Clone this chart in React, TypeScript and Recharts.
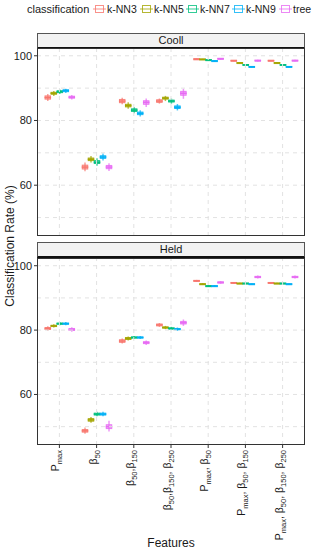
import React from 'react';
import { ComposedChart, Bar, XAxis, YAxis, ReferenceLine } from 'recharts';

const FEATURES = ['Pmax', 'b50', 'b50b150', 'b50b150b250', 'Pmax,b50', 'Pmax,b50,b150', 'Pmax,b50,b150,b250'];

// [text, subscript] pieces for each x label
const FEATURE_LABELS: [string, string][][] = [
  [['P', 'max']],
  [['β', '50']],
  [['β', '50'], [',β', '150']],
  [['β', '50'], [',β', '150'], [', β', '250']],
  [['P', 'max'], [', β', '50']],
  [['P', 'max'], [', β', '50'], [', β', '150']],
  [['P', 'max'], [', β', '50'], [', β', '150'], [', β', '250']],
];

const CLASSIFIERS = ['k-NN3', 'k-NN5', 'k-NN7', 'k-NN9', 'tree'];
const COLORS = ['#F8766D', '#A3A500', '#00BF7D', '#00B0F6', '#E76BF3'];

const Y_TICKS = [60, 80, 100];
const Y_MINOR = [50, 70, 90];
const Y_DOMAIN = [44.3, 102.4];

// each entry: [lower whisker, q1, median, q3, upper whisker], one per feature set
const COOLL_KNN3 = [[86.0, 86.6, 87.1, 87.6, 88.2], [64.3, 65.0, 65.6, 66.2, 67.0], [85.0, 85.5, 86.0, 86.5, 87.0], [85.2, 85.6, 86.0, 86.4, 86.8], [98.8, 98.9, 99.0, 99.05, 99.1], [98.3, 98.4, 98.5, 98.6, 98.7], [98.3, 98.4, 98.5, 98.6, 98.7]];
const COOLL_KNN5 = [[87.6, 88.1, 88.4, 88.7, 89.1], [67.0, 67.6, 68.0, 68.4, 69.0], [83.6, 84.2, 84.6, 85.0, 85.6], [86.0, 86.6, 86.9, 87.2, 87.6], [98.7, 98.8, 98.9, 99.0, 99.05], [97.6, 97.7, 97.8, 97.9, 98.0], [97.6, 97.7, 97.8, 97.9, 98.0]];
const COOLL_KNN7 = [[88.2, 88.6, 88.9, 89.2, 89.6], [66.0, 66.7, 67.1, 67.6, 68.3], [82.2, 82.8, 83.2, 83.6, 84.2], [85.2, 85.7, 86.0, 86.3, 86.8], [98.5, 98.6, 98.7, 98.8, 98.9], [97.0, 97.1, 97.2, 97.3, 97.4], [97.0, 97.1, 97.2, 97.3, 97.4]];
const COOLL_KNN9 = [[88.5, 88.9, 89.2, 89.5, 89.8], [67.6, 68.3, 68.7, 69.1, 69.8], [81.2, 81.8, 82.2, 82.6, 83.2], [83.1, 83.7, 84.1, 84.5, 85.1], [98.2, 98.3, 98.4, 98.5, 98.6], [96.4, 96.5, 96.6, 96.7, 96.8], [96.4, 96.5, 96.6, 96.7, 96.8]];
const COOLL_TREE = [[86.5, 86.9, 87.2, 87.5, 87.9], [64.4, 65.1, 65.6, 66.1, 66.8], [84.2, 85.0, 85.6, 86.1, 86.8], [86.7, 87.8, 88.4, 89.0, 89.8], [98.8, 98.95, 99.1, 99.2, 99.3], [98.2, 98.35, 98.5, 98.65, 98.8], [98.2, 98.35, 98.5, 98.65, 98.8]];

const HELD_KNN3 = [[79.8, 80.2, 80.5, 80.8, 81.2], [47.8, 48.3, 48.7, 49.1, 49.7], [75.8, 76.2, 76.6, 77.0, 77.4], [81.0, 81.3, 81.6, 81.9, 82.2], [95.0, 95.15, 95.3, 95.45, 95.6], [94.5, 94.6, 94.7, 94.8, 94.9], [94.5, 94.6, 94.7, 94.8, 94.9]];
const HELD_KNN5 = [[80.8, 81.1, 81.3, 81.5, 81.8], [51.2, 51.7, 52.1, 52.5, 53.0], [76.8, 77.1, 77.4, 77.7, 78.0], [80.3, 80.6, 80.8, 81.0, 81.3], [94.0, 94.2, 94.3, 94.4, 94.6], [94.3, 94.4, 94.5, 94.6, 94.7], [94.3, 94.4, 94.5, 94.6, 94.7]];
const HELD_KNN7 = [[81.5, 81.8, 82.0, 82.2, 82.5], [53.2, 53.6, 53.9, 54.2, 54.6], [77.2, 77.5, 77.7, 77.9, 78.2], [80.0, 80.3, 80.5, 80.7, 81.0], [93.4, 93.6, 93.7, 93.8, 94.0], [94.3, 94.4, 94.5, 94.6, 94.7], [94.3, 94.4, 94.5, 94.6, 94.7]];
const HELD_KNN9 = [[81.5, 81.8, 82.0, 82.2, 82.5], [53.2, 53.6, 53.9, 54.2, 54.6], [77.2, 77.5, 77.7, 77.9, 78.2], [79.8, 80.1, 80.3, 80.5, 80.8], [93.4, 93.6, 93.7, 93.8, 94.0], [94.1, 94.2, 94.3, 94.4, 94.5], [94.1, 94.2, 94.3, 94.4, 94.5]];
const HELD_TREE = [[79.5, 79.9, 80.2, 80.5, 80.9], [48.5, 49.4, 50.0, 50.6, 51.8], [75.4, 75.8, 76.1, 76.4, 76.8], [81.3, 81.9, 82.3, 82.7, 83.3], [94.4, 94.6, 94.8, 95.0, 95.2], [96.0, 96.3, 96.5, 96.7, 97.0], [96.0, 96.3, 96.5, 96.7, 97.0]];

const FONT = '"Liberation Sans", Arial, Helvetica, sans-serif';
const GRID = '#e2e2e2';

function buildRows(series: number[][][]) {
  return FEATURES.map((f, i) => {
    const row: any = { feature: f };
    series.forEach((s, j) => {
      row['s' + j] = [s[i][0], s[i][4]];
      row['b' + j] = s[i];
    });
    return row;
  });
}

const coollRows = buildRows([COOLL_KNN3, COOLL_KNN5, COOLL_KNN7, COOLL_KNN9, COOLL_TREE]);
const heldRows = buildRows([HELD_KNN3, HELD_KNN5, HELD_KNN7, HELD_KNN9, HELD_TREE]);

const BoxShape = (props: any) => {
  const { x, y, width, height, payload, idx } = props;
  const st = payload && payload['b' + idx];
  if (!st) return null;
  const top = Math.min(y, y + height);
  const h = Math.abs(height);
  const k = h / (st[4] - st[0] || 1);
  const py = (v: number) => top + (st[4] - v) * k;
  const color = COLORS[idx];
  const cx = x + width / 2;
  const bw = width - 0.5;
  const bx = cx - bw / 2;
  const q3 = py(st[3]);
  const q1 = py(st[1]);
  return (
    <g>
      <line x1={cx} x2={cx} y1={top} y2={top + h} stroke={color} strokeWidth={1.5} strokeOpacity={0.7} />
      <rect x={bx} y={q3} width={bw} height={Math.max(q1 - q3, 1)} fill={color} fillOpacity={0.55} stroke={color} strokeOpacity={0.85} strokeWidth={1} />
      <line x1={bx - 0.5} x2={bx + bw + 0.5} y1={py(st[2])} y2={py(st[2])} stroke={color} strokeWidth={1.5} />
    </g>
  );
};

const FeatureTick = (props: any) => {
  const { x, y, payload } = props;
  const i = FEATURES.indexOf(payload.value);
  const parts = FEATURE_LABELS[i] || [];
  return (
    <text transform={`translate(${x},${y}) rotate(-90)`} textAnchor="end" dy="0.35em" fontSize={10.5} fill="#1a1a1a" fontFamily={FONT}>
      {parts.map(([t, s], j) => (
        <React.Fragment key={j}>
          <tspan dy={j === 0 ? 0 : -3}>{t}</tspan>
          <tspan dy={3} fontSize={7.5}>{s}</tspan>
        </React.Fragment>
      ))}
    </text>
  );
};

const Panel = ({ rows, height, marginTop, showX }: { rows: any[]; height: number; marginTop: number; showX: boolean }) => (
  <ComposedChart
    width={313}
    height={height}
    data={rows}
    margin={{ top: marginTop, right: 8, bottom: 0, left: 0 }}
    barGap={0}
    barSize={6}
  >
    <XAxis
      dataKey="feature"
      hide={!showX}
      height={105}
      padding={{ left: 3.8, right: 3.8 }}
      axisLine={false}
      tickLine={{ stroke: '#333' }}
      tickSize={3}
      tickMargin={2}
      interval={0}
      tick={<FeatureTick />}
    />
    <YAxis
      type="number"
      domain={Y_DOMAIN}
      ticks={Y_TICKS}
      width={37}
      axisLine={false}
      tickLine={{ stroke: '#333' }}
      tickSize={3}
      tickMargin={2}
      tick={{ fontSize: 11, fill: '#1a1a1a', fontFamily: FONT }}
    />
    {[...Y_MINOR, ...Y_TICKS].map((v) => (
      <ReferenceLine key={'h' + v} y={v} stroke={GRID} strokeDasharray="4 4" />
    ))}
    {FEATURES.map((f) => (
      <ReferenceLine key={'v' + f} x={f} stroke={GRID} strokeDasharray="4 4" />
    ))}
    {CLASSIFIERS.map((c, j) => (
      <Bar
        key={c}
        dataKey={'s' + j}
        name={c}
        isAnimationActive={false}
        shape={(p: any) => <BoxShape {...p} idx={j} />}
      />
    ))}
  </ComposedChart>
);

const Strip = ({ top, label }: { top: number; label: string }) => (
  <div
    style={{
      position: 'absolute', left: 37, top, width: 266, height: 13,
      background: '#f2f2f2', border: '1px solid #555', borderBottom: '2px solid #111',
      fontSize: 11, lineHeight: '13px', textAlign: 'center', color: '#1a1a1a', fontFamily: FONT,
    }}
  >
    {label}
  </div>
);

const Frame = ({ top, height }: { top: number; height: number }) => (
  <div style={{ position: 'absolute', left: 37, top, width: 266, height: height - 2, border: '1px solid #333', pointerEvents: 'none' }} />
);

const LegendKey = ({ color }: { color: string }) => (
  <svg width={13} height={10} style={{ display: 'block' }}>
    <line x1={0} x2={13} y1={5} y2={5} stroke={color} strokeOpacity={0.8} strokeWidth={1} />
    <rect x={2.5} y={1.5} width={8} height={7} fill="#fff" stroke={color} strokeOpacity={0.8} strokeWidth={1} />
    <line x1={2.5} x2={10.5} y1={5} y2={5} stroke={color} strokeOpacity={0.8} strokeWidth={1} />
  </svg>
);

const LEGEND_X = [93, 140, 186, 232, 279];

export default function App() {
  return (
    <div style={{ position: 'absolute', left: 0, top: 0, width: 313, height: 550, background: '#fff', fontFamily: FONT }}>
      <div style={{ position: 'absolute', left: 27, top: 1, height: 16, lineHeight: '16px', fontSize: 11, color: '#1a1a1a', whiteSpace: 'nowrap' }}>
        classification
      </div>
      {CLASSIFIERS.map((c, j) => (
        <div key={c} style={{ position: 'absolute', left: LEGEND_X[j], top: 1, height: 16, display: 'flex', alignItems: 'center', whiteSpace: 'nowrap', fontSize: 10.5, color: '#1a1a1a' }}>
          <LegendKey color={COLORS[j]} />
          <span style={{ marginLeft: 1 }}>{c}</span>
        </div>
      ))}

      <div style={{ position: 'absolute', left: 0, top: 0 }}>
        <Panel rows={coollRows} height={236} marginTop={48} showX={false} />
      </div>
      <div style={{ position: 'absolute', left: 0, top: 0 }}>
        <Panel rows={heldRows} height={550} marginTop={258} showX={true} />
      </div>

      <Strip top={33} label="Cooll" />
      <Frame top={48} height={188} />
      <Strip top={242} label="Held" />
      <Frame top={258} height={187} />

      <div
        style={{
          position: 'absolute', left: 10, top: 246, transform: 'translate(-50%, -50%) rotate(-90deg)',
          whiteSpace: 'nowrap', fontSize: 12, color: '#1a1a1a',
        }}
      >
        Classification Rate (%)
      </div>
      <div style={{ position: 'absolute', left: 171, top: 543, transform: 'translate(-50%, -50%)', fontSize: 12, color: '#1a1a1a' }}>
        Features
      </div>
    </div>
  );
}
